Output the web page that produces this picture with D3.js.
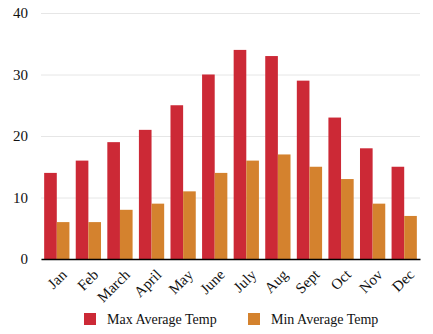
<!DOCTYPE html>
<html>
<head>
<meta charset="utf-8">
<script src="https://cdn.jsdelivr.net/npm/d3@7"></script>
<style>
  body { margin: 0; background: #fff; }
</style>
</head>
<body>
<script>
// monthly temperatures
var months = ["Jan", "Feb", "March", "April", "May", "June", "July", "Aug", "Sept", "Oct", "Nov", "Dec"];
var maxTemps = [14, 16, 19, 21, 25, 30, 34, 33, 29, 23, 18, 15];
var minTemps = [6, 6, 8, 9, 11, 14, 16, 17, 15, 13, 9, 7];
var seriesNames = ["Max Average Temp", "Min Average Temp"];
var yTicks = [0, 10, 20, 30, 40];

var w = 433,
	h = 334,
	font = "'Liberation Serif', 'Times New Roman', serif",
	colors = ["#cc2936", "#d4822e"],
	m = { top: 13, right: 13, bottom: 75, left: 41 };

var svg = d3.select("body")
	.append("svg")
	.attr("width", w)
	.attr("height", h)
	.style("font-family", font);

var x = d3.scaleBand()
	.domain(months)
	.range([m.left, w - m.right])
	.paddingInner(0.2)
	.paddingOuter(0.1);

var x1 = d3.scaleBand()
	.domain([0, 1])
	.range([0, x.bandwidth()]);

var y = d3.scaleLinear()
	.domain([0, 40])
	.range([h - m.bottom, m.top]);

// gridlines + y labels
var yAxis = svg.append("g")
	.attr("transform", "translate(" + m.left + ",0)")
	.call(d3.axisLeft(y).tickValues(yTicks).tickSize(-(w - m.left - m.right)).tickPadding(13));
yAxis.attr("font-family", font);
yAxis.select(".domain").remove();
yAxis.selectAll("line").attr("stroke", "#e6e6e6");
yAxis.selectAll("text").attr("font-size", 15).attr("fill", "#111");

var rows = months.map((d, i) => ({ month: d, vals: [maxTemps[i], minTemps[i]] }));

var groups = svg.selectAll("g.month")
	.data(rows)
	.enter()
	.append("g")
	.attr("class", "month")
	.attr("transform", d => "translate(" + x(d.month) + ",0)");

groups.selectAll("rect")
	.data(d => d.vals)
	.enter()
	.append("rect")
	.attr("x", (d, i) => x1(i))
	.attr("width", x1.bandwidth())
	.attr("y", d => y(d))
	.attr("height", d => y(0) - y(d))
	.attr("fill", (d, i) => colors[i]);

// x axis
var xAxis = svg.append("g")
	.attr("transform", "translate(0," + y(0) + ")")
	.call(d3.axisBottom(x).tickSize(0).tickSizeOuter(0));
xAxis.attr("font-family", font);
xAxis.select(".domain").attr("stroke", "#000").attr("stroke-width", 1.5);
xAxis.selectAll("text")
	.attr("font-size", 15)
	.attr("fill", "#111")
	.attr("text-anchor", "end")
	.attr("x", -4)
	.attr("y", 6)
	.attr("dy", "0.9em")
	.attr("transform", "rotate(-45)");

// legend
var legend = svg.selectAll("g.legend")
	.data(seriesNames)
	.enter()
	.append("g")
	.attr("class", "legend")
	.attr("transform", (d, i) => "translate(" + (84 + i * 164) + ",313)");

legend.append("rect")
	.attr("width", 12)
	.attr("height", 12)
	.attr("fill", (d, i) => colors[i]);

legend.append("text")
	.attr("x", 23)
	.attr("y", 11)
	.attr("font-size", 14)
	.attr("fill", "#111")
	.text(d => d);
</script>
</body>
</html>
